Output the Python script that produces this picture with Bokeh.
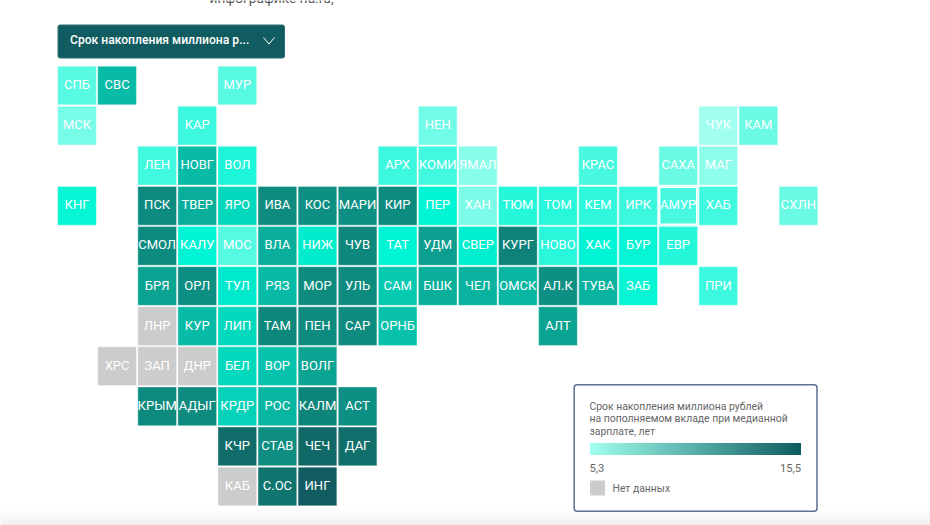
import numpy as np
from bokeh.core.properties import value
from bokeh.embed import file_html
from bokeh.models import BoxAnnotation, ColumnDataSource, LinearColorMapper, Range1d
from bokeh.plotting import figure
from bokeh.resources import INLINE

# ---- data: tile code, grid column, grid row, years (None = no data)
codes = ["СПБ","СВС","МУР",
         "МСК","КАР","НЕН","ЧУК","КАМ",
         "ЛЕН","НОВГ","ВОЛ","АРХ","КОМИ","ЯМАЛ","КРАС","САХА","МАГ",
         "КНГ","ПСК","ТВЕР","ЯРО","ИВА","КОС","МАРИ","КИР","ПЕР","ХАН","ТЮМ","ТОМ","КЕМ","ИРК","АМУР","ХАБ","СХЛН",
         "СМОЛ","КАЛУ","МОС","ВЛА","НИЖ","ЧУВ","ТАТ","УДМ","СВЕР","КУРГ","НОВО","ХАК","БУР","ЕВР",
         "БРЯ","ОРЛ","ТУЛ","РЯЗ","МОР","УЛЬ","САМ","БШК","ЧЕЛ","ОМСК","АЛ.К","ТУВА","ЗАБ","ПРИ",
         "ЛНР","КУР","ЛИП","ТАМ","ПЕН","САР","ОРНБ","АЛТ",
         "ХРС","ЗАП","ДНР","БЕЛ","ВОР","ВОЛГ",
         "КРЫМ","АДЫГ","КРДР","РОС","КАЛМ","АСТ",
         "КЧР","СТАВ","ЧЕЧ","ДАГ",
         "КАБ","С.ОС","ИНГ"]
columns = [0,1,4,
           0,3,9,16,17,
           2,3,4,8,9,10,13,15,16,
           0,2,3,4,5,6,7,8,9,10,11,12,13,14,15,16,18,
           2,3,4,5,6,7,8,9,10,11,12,13,14,15,
           2,3,4,5,6,7,8,9,10,11,12,13,14,16,
           2,3,4,5,6,7,8,12,
           1,2,3,4,5,6,
           2,3,4,5,6,7,
           4,5,6,7,
           4,5,6]
rows = [0]*3 + [1]*5 + [2]*9 + [3]*17 + [4]*14 + [5]*14 + [6]*8 + [7]*6 + [8]*6 + [9]*4 + [10]*3
years = [6.5,10.0,6.5,
         6.0,7.0,6.1,5.3,6.2,
         6.9,10.0,7.5,7.0,6.9,5.7,6.8,6.2,5.6,
         7.9,12.0,10.5,9.0,12.0,11.8,11.8,12.0,8.0,5.9,7.4,7.3,7.2,7.0,6.8,6.9,6.2,
         12.0,8.0,6.6,10.5,8.3,12.3,8.0,11.2,8.2,12.7,7.3,8.0,7.9,7.4,
         11.0,11.8,8.4,10.0,12.0,12.0,9.5,10.5,10.3,10.2,11.8,10.3,7.9,7.0,
         None,10.0,9.0,12.2,12.0,12.0,9.8,11.0,
         None,None,None,9.0,9.7,11.0,
         12.0,12.0,9.2,10.2,12.5,11.8,
         14.3,11.9,14.5,14.1,
         None,13.6,15.5]
highlighted = ["АМУР"]
legend_title = ["Срок накопления миллиона рублей",
                "на пополняемом вкладе при медианной",
                "зарплате, лет"]
scale_min, scale_max = 5.3, 15.5
scale_labels = ["5,3", "15,5"]
no_data_label = "Нет данных"
button_label = "Срок накопления миллиона р..."
top_label = "инфографике ria.ru,"

# ---- colour ramp used on the tiles
def ramp(stops, n=256):
    xs = np.array([s[0] for s in stops], float)
    cs = np.array([[int(s[1][i:i+2], 16) for i in (1, 3, 5)] for s in stops], float)
    t = np.linspace(xs[0], xs[-1], n)
    out = [np.interp(t, xs, cs[:, k]) for k in range(3)]
    return ["#%02x%02x%02x" % (int(r), int(g), int(b)) for r, g, b in zip(*out)]

tile_palette = ramp([(5.3, "#a0ffee"), (8.0, "#00f5d5"), (10.0, "#09bba6"),
                     (12.0, "#0e8c80"), (13.6, "#10766f"), (15.5, "#115c60")])
tile_mapper = LinearColorMapper(palette=tile_palette, low=scale_min, high=scale_max, nan_color="#cccccc")
legend_mapper = LinearColorMapper(palette=ramp([(0, "#a0ffee"), (1, "#0f5d60")]), low=0, high=1)
band_mapper = LinearColorMapper(palette=ramp([(0, "#ffffff"), (1, "#f0f0f0")]), low=0, high=1)

W, H = 930, 525
PITCH_X, PITCH_Y = 40.08, 40.1
X0, Y0 = 76.5, 85.0

p = figure(width=W, height=H, output_backend="svg", toolbar_location=None,
           x_axis_type=None, y_axis_type=None, min_border=0,
           x_range=Range1d(-X0 / PITCH_X, (W - X0) / PITCH_X),
           y_range=Range1d((H - Y0) / PITCH_Y, -Y0 / PITCH_Y))
p.grid.visible = False
p.outline_line_color = None
p.background_fill_color = "#ffffff"
p.border_fill_color = "#ffffff"
p.extra_x_ranges = {"px": Range1d(0, W)}
p.extra_y_ranges = {"px": Range1d(H, 0)}
PX = dict(x_range_name="px", y_range_name="px")
ROBOTO = value("Roboto")

# bottom fade of the page
p.image(image=[np.linspace(0, 1, 16).reshape(-1, 1)], x=0, y=509, dw=930, dh=16,
        color_mapper=band_mapper, level="underlay", **PX)

# tiles
src = ColumnDataSource(dict(code=codes, col=columns, row=rows,
                            years=[float("nan") if v is None else v for v in years]))
p.rect("col", "row", width=0.965, height=0.965, source=src,
       fill_color={"field": "years", "transform": tile_mapper},
       line_color="#ffffff", line_alpha=0.35, line_width=1)
hi = [i for i, c in enumerate(codes) if c in highlighted]
p.rect([columns[i] for i in hi], [rows[i] for i in hi], width=0.925, height=0.925,
       fill_color=None, line_color="#ffffff", line_width=1.5)
p.text("col", "row", text="code", source=src, text_color="#ffffff", text_font=ROBOTO,
       text_font_size="13px", text_align="center", text_baseline="middle", y_offset=-1)

# dropdown button
p.add_layout(BoxAnnotation(left=57.5, right=284, top=24.5, bottom=57.5, fill_color="#115c60", fill_alpha=1,
                           line_color="#2c7073", line_alpha=1, line_width=1, border_radius=2, level="underlay", **PX))
p.text([69.5], [39.5], text=[button_label], text_color="#ffffff", text_font=value("Roboto Medium"),
       text_font_size="12.1px", text_align="left", text_baseline="middle", **PX)
p.line([263, 268.5, 274], [37, 43.5, 37], line_color="#ffffff", line_width=1, **PX)

# legend
p.add_layout(BoxAnnotation(left=573.7, right=816.5, top=384.2, bottom=510.7, fill_color="#ffffff", fill_alpha=1,
                           line_color="#5f6f91", line_alpha=1, line_width=1.5, border_radius=3, level="underlay", **PX))
p.text([589] * 3, [405.5, 418, 430.5], text=legend_title, text_color="#666666", text_font=ROBOTO,
       text_font_size="10.4px", text_align="left", text_baseline="middle", **PX)
p.image(image=[np.linspace(0, 1, 212).reshape(1, -1)], x=589.5, y=442.5, dw=211, dh=12,
        color_mapper=legend_mapper, **PX)
p.text([589], [467], text=[scale_labels[0]], text_color="#666666", text_font=ROBOTO,
       text_font_size="11.2px", text_align="left", text_baseline="middle", **PX)
p.text([800.5], [467], text=[scale_labels[1]], text_color="#666666", text_font=ROBOTO,
       text_font_size="11.2px", text_align="right", text_baseline="middle", **PX)
p.quad(left=[589.5], right=[604.5], top=[480], bottom=[495], fill_color="#cccccc", line_color=None, **PX)
p.text([612], [488], text=[no_data_label], text_color="#666666", text_font=ROBOTO,
       text_font_size="10.4px", text_align="left", text_baseline="middle", **PX)

# cut-off text at the very top of the page
p.text([209], [-3], text=[top_label], text_color="#555555", text_font=ROBOTO,
       text_font_size="13.7px", text_align="left", text_baseline="alphabetic", **PX)

open("out.html", "w").write(file_html(p, INLINE))
